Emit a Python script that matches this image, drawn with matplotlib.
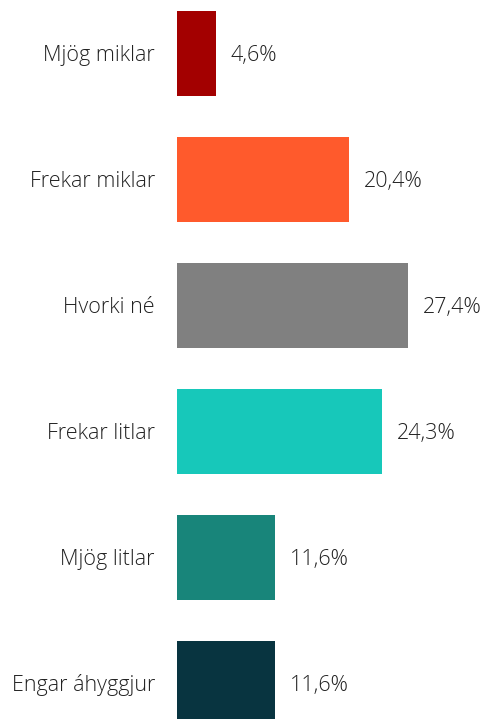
import matplotlib
matplotlib.use("Agg")
import matplotlib.pyplot as plt

categories = ["Mjög miklar", "Frekar miklar", "Hvorki né", "Frekar litlar", "Mjög litlar", "Engar áhyggjur"]
values = [4.6, 20.4, 27.4, 24.3, 11.6, 11.6]
value_labels = ["4,6%", "20,4%", "27,4%", "24,3%", "11,6%", "11,6%"]
colors = ["#A30000", "#FF5A2C", "#808080", "#17C8BA", "#18857A", "#083440"]

W, H = 481, 719
fig = plt.figure(figsize=(W / 100, H / 100), dpi=100)
ax = fig.add_axes([0, 0, 1, 1])

px_per_unit = 8.43
x0 = 177
ax.set_xlim(-x0 / px_per_unit, (W - x0) / px_per_unit)
row = 126.0
c0 = 53.5
ax.set_ylim((H - c0) / row, -c0 / row)

ypos = list(range(len(categories)))
ax.barh(ypos, values, height=0.675, color=colors)

fam = ["Open Sans", "DejaVu Sans"]
for y, v, lab, cat in zip(ypos, values, value_labels, categories):
    ax.annotate(lab, (v, y), xytext=(15, -2), textcoords="offset pixels",
                va="center", ha="left", fontsize=15.5, color="#222222",
                family=fam, weight="light")
    ax.annotate(cat, (0, y), xytext=(-22, -2), textcoords="offset pixels",
                va="center", ha="right", fontsize=15.5, color="#222222",
                family=fam, weight="light")

ax.axis("off")
fig.savefig("out.png", dpi=100)
